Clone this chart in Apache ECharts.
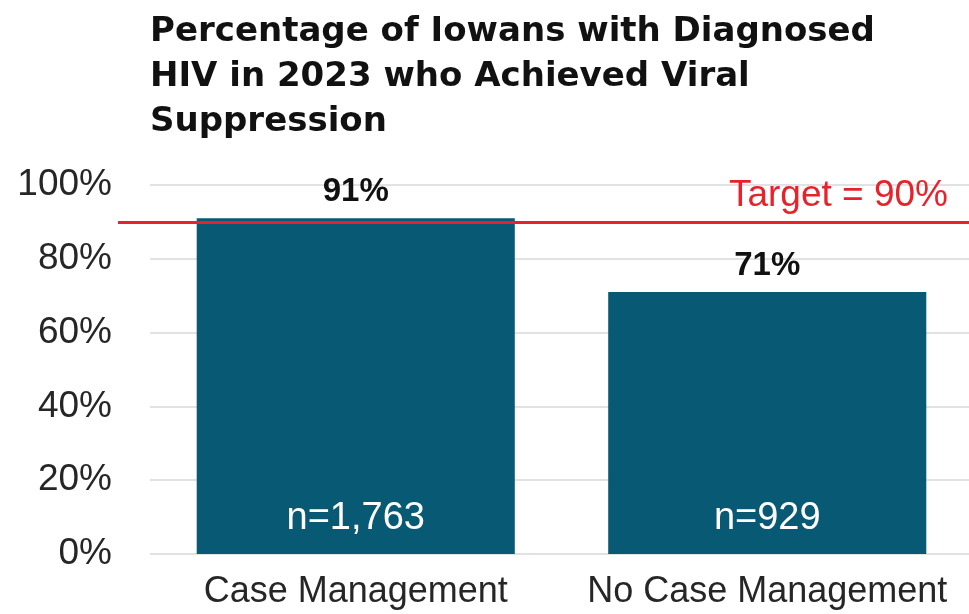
<!DOCTYPE html>
<html>
<head>
<meta charset="utf-8">
<script src="https://cdn.jsdelivr.net/npm/echarts@6/dist/echarts.min.js"></script>
<style>html,body{margin:0;padding:0;background:#fff;}#c{width:969px;height:614px;}</style>
</head>
<body>
<div id="c"></div>
<script>
const categories = ['Case Management', 'No Case Management'];
const suppressedPct = [91, 71];
const sampleSizes = ['n=1,763', 'n=929'];
const targetPct = 90;
const targetLabel = 'Target = 90%';
const yTicks = [0, 20, 40, 60, 80, 100];
const titleText = 'Percentage of Iowans with Diagnosed\nHIV in 2023 who Achieved Viral\nSuppression';

const chart = echarts.init(document.getElementById('c'), null, {renderer: 'canvas'});
chart.setOption({
  animation: false,
  backgroundColor: '#ffffff',
  title: {
    text: titleText,
    left: 145,
    top: 5,
    textStyle: {
      fontFamily: 'DejaVu Sans',
      fontWeight: 'bold',
      fontSize: 34,
      lineHeight: 45,
      color: '#111111'
    }
  },
  grid: {
    left: 150,
    right: -4,
    top: 185,
    bottom: 60,
    containLabel: false,
    outerBoundsMode: 'none'
  },
  xAxis: {
    type: 'category',
    data: categories,
    axisLine: {show: false},
    axisTick: {show: false},
    axisLabel: {
      interval: 0,
      hideOverlap: false,
      margin: 20,
      fontFamily: 'Liberation Sans',
      fontSize: 36,
      color: '#262626'
    }
  },
  yAxis: {
    type: 'value',
    min: yTicks[0],
    max: yTicks[yTicks.length - 1],
    interval: 20,
    axisLine: {show: false},
    axisTick: {show: false},
    splitLine: {lineStyle: {color: '#d9d9d9', width: 1.5}},
    axisLabel: {
      margin: 38,
      formatter: '{value}%',
      fontFamily: 'Liberation Sans',
      fontSize: 37,
      color: '#262626'
    }
  },
  series: [
    {
      type: 'bar',
      data: suppressedPct,
      barCategoryGap: '22.7%',
      itemStyle: {color: '#085a74'},
      label: {
        show: true,
        position: 'top',
        distance: 10,
        formatter: '{c}%',
        fontFamily: 'Liberation Sans',
        fontWeight: 'bold',
        fontSize: 33,
        color: '#111111'
      },
      markLine: {
        silent: true,
        symbol: 'none',
        z: 10,
        lineStyle: {color: '#e8222a', width: 3, type: 'solid'},
        label: {
          show: true,
          position: 'insideEndTop',
          distance: [21, 8],
          formatter: targetLabel,
          fontFamily: 'Liberation Sans',
          fontSize: 37,
          color: '#e8222a'
        },
        data: [[
          {yAxis: targetPct, x: 118},
          {yAxis: targetPct, x: 969}
        ]]
      }
    },
    {
      type: 'bar',
      data: suppressedPct,
      barGap: '-100%',
      barCategoryGap: '22.7%',
      itemStyle: {color: 'rgba(0,0,0,0)'},
      label: {
        show: true,
        position: 'insideBottom',
        distance: 16,
        formatter: function (p) { return sampleSizes[p.dataIndex]; },
        fontFamily: 'Liberation Sans',
        fontSize: 38,
        color: '#ffffff'
      }
    }
  ]
});
</script>
</body>
</html>
